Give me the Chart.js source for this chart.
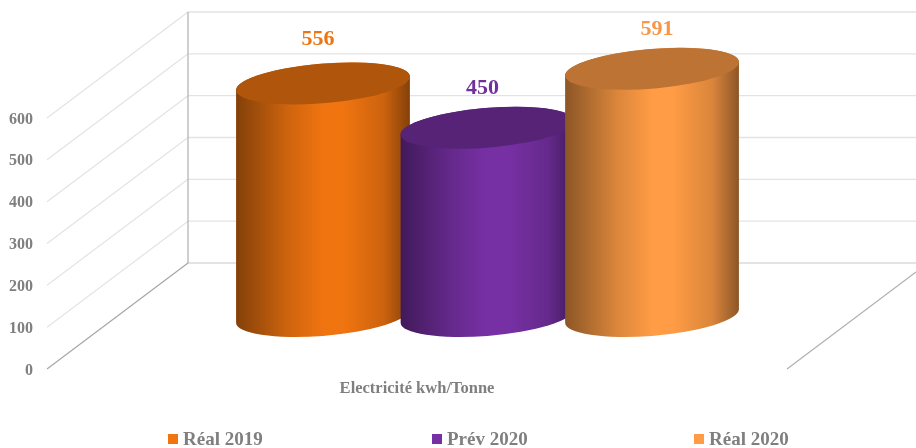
<!DOCTYPE html>
<html>
<head>
<meta charset="utf-8">
<style>
  html, body { margin: 0; background: #fff; }
  canvas { display: block; }
</style>
<script src="https://cdn.jsdelivr.net/npm/chart.js@4"></script>
</head>
<body>
<canvas id="chart" width="916" height="448"></canvas>
<script>
const categories = ['Electricité kwh/Tonne'];
const seriesNames = ['Réal 2019', 'Prév 2020', 'Réal 2020'];
const seriesValues = [556, 450, 591];
const seriesColors = ['#F07410', '#7730A4', '#FF9C45'];
const labelColors = ['#EE7410', '#7030A0', '#F79646'];
const topShades = [0.73, 0.72, 0.74];
const yTicks = [0, 100, 200, 300, 400, 500, 600];

const SERIF = '"Liberation Serif", "Times New Roman", serif';
const GREY = '#7f7f7f';

// Oblique projection: how far the back wall sits from the front plane
const WALL_X = 141;
const WALL_Y = 106;
// Cylinders stand half way into the depth
const DEPTH = 0.5;
const ELLIPSE_BX = 28;
const ELLIPSE_BY = 21;

function shade(hex, f) {
    const n = parseInt(hex.slice(1), 16);
    const r = Math.round((n >> 16 & 255) * f);
    const g = Math.round((n >> 8 & 255) * f);
    const b = Math.round((n & 255) * f);
    return `rgb(${r},${g},${b})`;
}

// Floor, walls and gridlines, projected from the y scale
const wallPlugin = {
    id: 'wall',
    beforeDatasetsDraw(chart) {
        const { ctx, chartArea, scales: { y } } = chart;
        const x0 = chartArea.left;
        const x1 = chartArea.right;
        ctx.save();
        yTicks.forEach(v => {
            const py = y.getPixelForValue(v);
            ctx.strokeStyle = v === 0 ? '#dadada' : '#e3e3e3';
            ctx.lineWidth = 1.4;
            ctx.beginPath();
            ctx.moveTo(x0 + WALL_X, py - WALL_Y);
            ctx.lineTo(x1 + WALL_X, py - WALL_Y);
            ctx.stroke();
            ctx.strokeStyle = v === 0 ? '#a6a6a6' : '#e3e3e3';
            ctx.lineWidth = 1.2;
            ctx.beginPath();
            ctx.moveTo(x0, py);
            ctx.lineTo(x0 + WALL_X, py - WALL_Y);
            ctx.stroke();
        });
        ctx.strokeStyle = '#b0b0b0';
        ctx.lineWidth = 1.2;
        ctx.beginPath();
        ctx.moveTo(x0 + WALL_X, y.getPixelForValue(600) - WALL_Y);
        ctx.lineTo(x0 + WALL_X, y.getPixelForValue(0) - WALL_Y);
        ctx.moveTo(x1, y.getPixelForValue(0));
        ctx.lineTo(x1 + WALL_X, y.getPixelForValue(0) - WALL_Y);
        ctx.stroke();
        ctx.restore();
    }
};

// Turns each bar element into a cylinder
const cylinderPlugin = {
    id: 'cylinder',
    afterDatasetsDraw(chart) {
        const { ctx } = chart;
        chart.data.datasets.forEach((ds, i) => {
            const bar = chart.getDatasetMeta(i).data[0];
            const a = bar.width / 2;
            const cx = bar.x + WALL_X * DEPTH;
            const topY = bar.y - WALL_Y * DEPTH;
            const baseY = bar.base - WALL_Y * DEPTH;
            const t0 = Math.atan2(ELLIPSE_BX, a);
            const half = Math.sqrt(a * a + ELLIPSE_BX * ELLIPSE_BX);
            const color = seriesColors[i];

            const grad = ctx.createLinearGradient(cx - half, 0, cx + half, 0);
            grad.addColorStop(0, shade(color, 0.55));
            grad.addColorStop(0.3, shade(color, 0.86));
            grad.addColorStop(0.5, shade(color, 1));
            grad.addColorStop(0.62, shade(color, 1));
            grad.addColorStop(0.85, shade(color, 0.85));
            grad.addColorStop(1, shade(color, 0.55));

            ctx.save();
            ctx.beginPath();
            ctx.save();
            ctx.transform(a, 0, ELLIPSE_BX, -ELLIPSE_BY, cx, baseY);
            ctx.arc(0, 0, 1, t0 + Math.PI, t0 + 2 * Math.PI, false);
            ctx.restore();
            ctx.save();
            ctx.transform(a, 0, ELLIPSE_BX, -ELLIPSE_BY, cx, topY);
            ctx.arc(0, 0, 1, t0, t0 + Math.PI, false);
            ctx.restore();
            ctx.closePath();
            ctx.fillStyle = grad;
            ctx.fill();

            ctx.beginPath();
            ctx.save();
            ctx.transform(a, 0, ELLIPSE_BX, -ELLIPSE_BY, cx, topY);
            ctx.arc(0, 0, 1, 0, 2 * Math.PI);
            ctx.restore();
            ctx.fillStyle = shade(color, topShades[i]);
            ctx.fill();

            // value label above the top face
            ctx.font = `bold 22px ${SERIF}`;
            ctx.fillStyle = labelColors[i];
            ctx.textAlign = 'center';
            ctx.textBaseline = 'middle';
            ctx.fillText(String(ds.data[0]), cx + ds.labelDx, topY - ds.labelDy);
            ctx.restore();
        });
    }
};

// Legend row, spread wider than the built-in legend would allow
const legendRowPlugin = {
    id: 'legendRow',
    afterDraw(chart) {
        const { ctx } = chart;
        const boxes = [168, 432, 694];
        ctx.save();
        ctx.textBaseline = 'middle';
        ctx.textAlign = 'left';
        ctx.font = `bold 19px ${SERIF}`;
        seriesNames.forEach((name, i) => {
            ctx.fillStyle = seriesColors[i];
            ctx.fillRect(boxes[i], 434, 10, 10);
            ctx.fillStyle = GREY;
            ctx.fillText(name, boxes[i] + 15, 440);
        });
        ctx.restore();
    }
};

new Chart(document.getElementById('chart'), {
    type: 'bar',
    data: {
        labels: categories,
        datasets: seriesNames.map((name, i) => ({
            label: name,
            data: [seriesValues[i]],
            backgroundColor: 'transparent',
            categoryPercentage: 0.667,
            barPercentage: 1,
            labelDx: i === 2 ? 5 : -5,
            labelDy: i === 0 ? 44 : 39
        }))
    },
    plugins: [wallPlugin, cylinderPlugin, legendRowPlugin],
    options: {
        responsive: false,
        animation: false,
        layout: { padding: { top: 118, right: 129, bottom: 52, left: 0 } },
        plugins: {
            legend: { display: false },
            tooltip: { enabled: false }
        },
        scales: {
            x: {
                grid: { display: false, drawTicks: false },
                border: { display: false },
                ticks: {
                    color: GREY,
                    padding: 10,
                    maxRotation: 0,
                    font: { family: SERIF, size: 16.5, weight: 'bold' }
                },
                afterFit(scale) {
                    scale.height = 27;
                    scale.paddingLeft = 0;
                    scale.paddingRight = 0;
                }
            },
            y: {
                min: 0,
                max: 600,
                grid: { display: false, drawTicks: false },
                border: { display: false },
                ticks: {
                    stepSize: 100,
                    color: GREY,
                    padding: 14,
                    labelOffset: 1.5,
                    font: { family: SERIF, size: 16, weight: 'bold' }
                },
                afterFit(scale) {
                    scale.width = 47;
                    scale.paddingTop = 0;
                    scale.paddingBottom = 0;
                }
            }
        }
    }
});
</script>
</body>
</html>
